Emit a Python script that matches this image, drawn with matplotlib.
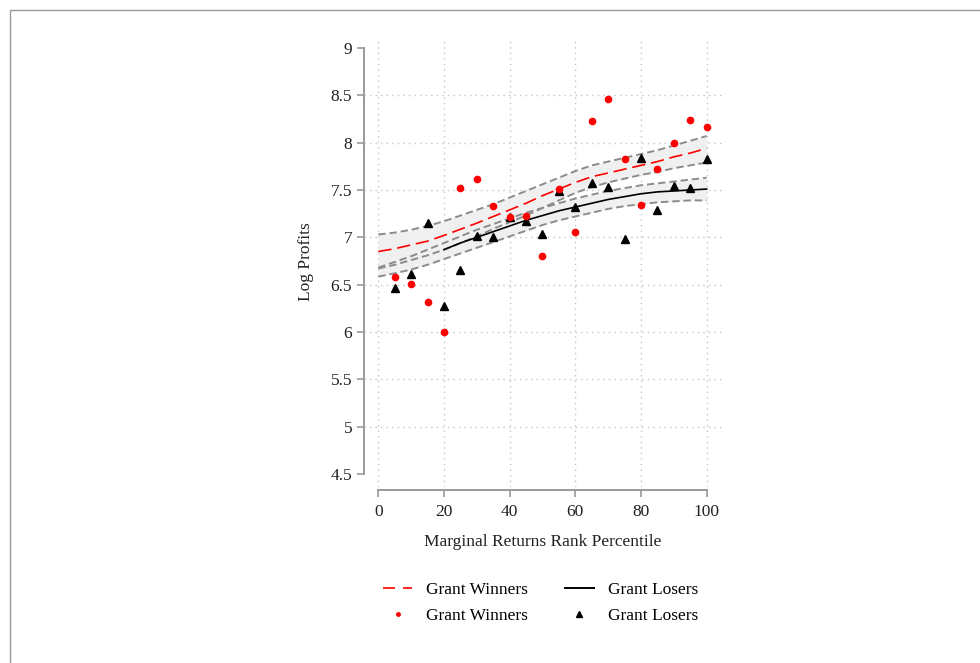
import numpy as np
import matplotlib
matplotlib.use("Agg")
import matplotlib.pyplot as plt
from matplotlib.lines import Line2D
from matplotlib.patches import Rectangle

plt.rcParams['font.family'] = ['Liberation Serif', 'DejaVu Serif']

# scatter: binned means by rank percentile
pct = [5, 10, 15, 20, 25, 30, 35, 40, 45, 50, 55, 60, 65, 70, 75, 80, 85, 90, 95, 100]
winners = [6.58, 6.51, 6.32, 6.00, 7.52, 7.62, 7.33, 7.22, 7.23, 6.80,
           7.51, 7.06, 8.23, 8.46, 7.83, 7.34, 7.72, 8.00, 8.24, 8.17]
losers = [6.47, 6.61, 7.15, 6.27, 6.65, 7.01, 7.00, 7.22, 7.17, 7.04,
          7.49, 7.32, 7.57, 7.53, 6.98, 7.84, 7.29, 7.54, 7.52, 7.83]

# local polynomial fits and confidence bands
grid = [0, 5, 10, 15, 20, 25, 30, 35, 40, 45, 50, 55, 60, 65, 70, 75, 80, 85, 90, 95, 100]
win_fit = [6.85, 6.88, 6.92, 6.96, 7.02, 7.085, 7.15, 7.22, 7.29, 7.36, 7.44,
           7.51, 7.58, 7.64, 7.68, 7.72, 7.76, 7.80, 7.85, 7.89, 7.94]
win_hi = [7.03, 7.05, 7.08, 7.12, 7.17, 7.23, 7.29, 7.35, 7.42, 7.49, 7.56,
          7.63, 7.70, 7.76, 7.80, 7.84, 7.88, 7.92, 7.97, 8.02, 8.07]
win_lo = [6.67, 6.71, 6.76, 6.81, 6.87, 6.94, 7.01, 7.09, 7.16, 7.23, 7.31,
          7.39, 7.47, 7.53, 7.58, 7.62, 7.66, 7.69, 7.73, 7.76, 7.79]
lose_grid = [20, 25, 30, 35, 40, 45, 50, 55, 60, 65, 70, 75, 80, 85, 90, 95, 100]
lose_fit = [6.87, 6.94, 7.00, 7.06, 7.12, 7.18, 7.23, 7.28, 7.32, 7.36, 7.40,
            7.43, 7.46, 7.48, 7.49, 7.50, 7.51]
lose_hi = [6.68, 6.74, 6.80, 6.87, 6.94, 7.01, 7.08, 7.14, 7.20, 7.26, 7.31,
           7.36, 7.41, 7.45, 7.49, 7.52, 7.55, 7.57, 7.59, 7.61, 7.63]
lose_lo = [6.585, 6.62, 6.66, 6.71, 6.77, 6.83, 6.89, 6.95, 7.01, 7.07, 7.13,
           7.18, 7.22, 7.26, 7.30, 7.33, 7.35, 7.37, 7.38, 7.39, 7.39]

xticks = [0, 20, 40, 60, 80, 100]
yticks = [4.5, 5, 5.5, 6, 6.5, 7, 7.5, 8, 8.5, 9]
ylabels = ['4.5', '5', '5.5', '6', '6.5', '7', '7.5', '8', '8.5', '9']

fig = plt.figure(figsize=(9.8, 6.63), dpi=100)
ax = fig.add_axes([364 / 980, 1 - 487 / 663, 358 / 980, 450 / 663])
ax.set_xlim(-4.35, 104.67)
ax.set_ylim(4.363, 9.116)

# dotted grid, not at the outer ticks on y
for y in yticks[1:-1]:
    ax.axhline(y, color='#c4c4c4', lw=1, ls=(0, (1, 3)), zorder=0)
for x in xticks:
    ax.axvline(x, color='#c4c4c4', lw=1, ls=(0, (1, 3)), zorder=0)

band_kw = dict(color='#8c8c8c', lw=1.4, ls=(0, (3.8, 2.0)), zorder=3)
ax.fill_between(grid, win_lo, win_hi, color='#f0f0f0', lw=0, zorder=1)
ax.fill_between(grid, lose_lo, lose_hi, color='#f0f0f0', lw=0, zorder=1)
for b in (win_hi, win_lo, lose_hi, lose_lo):
    ax.plot(grid, b, **band_kw)

ax.plot(grid, win_fit, color='red', lw=1.2, ls=(0, (8, 3.5)), zorder=4)
ax.plot(lose_grid, lose_fit, color='black', lw=1.2, zorder=4)

ax.plot(pct, losers, ls='none', marker='^', ms=5.5, color='black', zorder=5)
ax.plot(pct, winners, ls='none', marker='o', ms=4.5, color='red', mec='red', zorder=6)

for side in ('top', 'right'):
    ax.spines[side].set_visible(False)
ax.spines['left'].set_bounds(4.5, 9)
ax.spines['bottom'].set_bounds(0, 100)
ax.spines['bottom'].set_position(('outward', 2))
for side in ('left', 'bottom'):
    ax.spines[side].set_color('#9a9a9a')
    ax.spines[side].set_linewidth(1.4)

ax.set_xticks(xticks)
ax.set_yticks(yticks)
ax.set_yticklabels(ylabels)
ax.tick_params(axis='both', colors='#9a9a9a', width=1.2, length=5,
               labelcolor='#222222', labelsize=12.5)
ax.tick_params(axis='x', pad=5)
ax.set_xlabel('Marginal Returns Rank Percentile', fontsize=12.5, color='#222222', labelpad=10)
ax.set_ylabel('Log Profits', fontsize=12.5, color='#222222', labelpad=12)

handles = [
    Line2D([], [], color='red', lw=1.2, ls=(0, (7.2, 4.8))),
    Line2D([], [], color='red', ls='none', marker='o', ms=2.5),
    Line2D([], [], color='black', lw=1.4),
    Line2D([], [], color='black', ls='none', marker='^', ms=4),
]
labels = ['Grant Winners', 'Grant Winners', 'Grant Losers', 'Grant Losers']
fig.legend(handles, labels, ncol=2, loc='center', bbox_to_anchor=(0.5515, 0.0905),
           frameon=False, fontsize=12.5, handlelength=1.7, handletextpad=0.8,
           columnspacing=2.1, labelspacing=0.6)

fig.patches.append(Rectangle((10 / 980, -0.05), 1.1, 1.05 - 10 / 663,
                             transform=fig.transFigure, fill=False,
                             edgecolor='#9a9a9a', lw=1))

fig.savefig('out.png', dpi=100)
